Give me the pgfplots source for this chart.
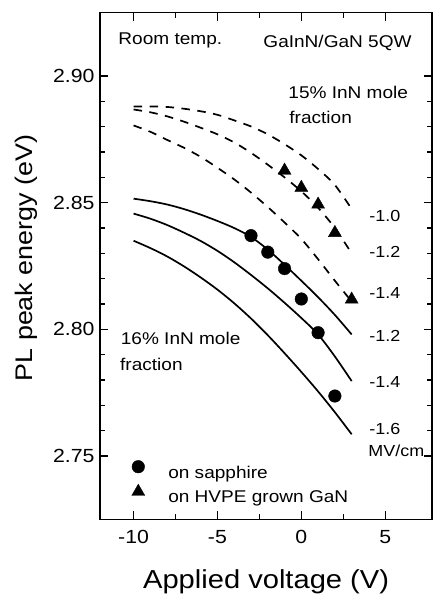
\documentclass[border=0pt]{standalone}
\usepackage{fontspec}
\setmainfont{Liberation Sans}[FakeStretch=1.12]
\usepackage{pgfplots}
\pgfplotsset{compat=1.18}
% legend image: one mark, then room before the text
\pgfplotsset{mkleg/.style={legend image code/.code={%
  \path[draw=none, fill=none] (0pt,-8pt) rectangle (36.5pt,17pt);
  \draw[##1] plot coordinates {(6.5pt,6pt)};}}}
\tikzset{ann/.style={anchor=base west, inner sep=0pt, font=\fontsize{17}{20}\selectfont},
         fld/.style={anchor=base west, inner sep=0pt, font=\fontsize{16}{19}\selectfont}}

\begin{document}
\begin{tikzpicture}
\begin{axis}[
    at={(0pt,0pt)}, anchor=south west,
    scale only axis, width=332.2pt, height=506.7pt,
    xmin=-12, xmax=7.8, ymin=2.725, ymax=2.925,
    xtick={-10,-5,0,5}, minor x tick num=1,
    ytick={2.75,2.80,2.85,2.90}, minor y tick num=4,
    tick align=inside,
    major tick length=8pt, minor tick length=5pt,
    axis line style={line width=1.5pt},
    tick style={black, line width=1.2pt},
    /pgf/number format/assume math mode=true,
    yticklabel style={/pgf/number format/fixed, /pgf/number format/fixed zerofill, /pgf/number format/precision=2, xshift=-2pt},
    xticklabel style={yshift=-7pt},
    ticklabel style={font=\fontsize{19}{22}\selectfont},
    xlabel={Applied voltage (V)},
    ylabel={PL peak energy (eV)},
    xlabel style={at={(axis description cs:0.5,-0.1354)}, anchor=base, font=\fontsize{26}{30}\selectfont},
    ylabel style={at={(axis description cs:-0.2228,0.516)}, anchor=center, font=\fontsize{24}{28}\selectfont},
    legend style={draw=none, fill=none, inner sep=0pt, outer sep=0pt,
        at={(0.0957,0.1257)}, anchor=north west,
        font=\fontsize{17}{20}\selectfont,
        nodes={inner sep=0pt}, row sep=0pt, column sep=0pt},
    legend cell align=left,
  ]
  % 16% InN, solid
  \addplot[black, line width=1.7pt, smooth, forget plot] coordinates {
    (-10,2.8516) (-9,2.8506) (-8,2.8493) (-7,2.8475) (-6,2.8453) (-5,2.8428) (-4,2.8400)
    (-3,2.8365) (-2,2.8315) (-1,2.8255) (0,2.8192) (1,2.8127) (2,2.8057) (3,2.7980)};
  \addplot[black, line width=1.7pt, smooth, forget plot] coordinates {
    (-10,2.8457) (-9,2.8437) (-8,2.8412) (-7,2.8382) (-6,2.8349) (-5,2.8310) (-4,2.8265)
    (-3,2.8215) (-2,2.8162) (-1,2.8105) (0,2.8045) (1,2.7980) (2,2.7893) (3,2.7796)};
  \addplot[black, line width=1.7pt, smooth, forget plot] coordinates {
    (-10,2.8350) (-9,2.8321) (-8,2.8288) (-7,2.8249) (-6,2.8205) (-5,2.8157) (-4,2.8103)
    (-3,2.8043) (-2,2.7977) (-1,2.7906) (0,2.7832) (1,2.7755) (2,2.7673) (3,2.7586)};
  % 15% InN, dashed
  \addplot[black, line width=1.7pt, smooth, dash pattern=on 8.5pt off 7.5pt, forget plot] coordinates {
    (-10,2.8880) (-9,2.8880) (-8,2.8878) (-7,2.8871) (-6,2.8861) (-5,2.8847) (-4,2.8825)
    (-3,2.8801) (-2,2.8770) (-1,2.8731) (0,2.8687) (1,2.8633) (2,2.8570) (3,2.8475)};
  \addplot[black, line width=1.7pt, smooth, dash pattern=on 8.5pt off 7.5pt, forget plot] coordinates {
    (-10,2.8868) (-9,2.8857) (-8,2.8841) (-7,2.8820) (-6,2.8796) (-5,2.8770) (-4,2.8738)
    (-3,2.8697) (-2,2.8650) (-1,2.8600) (0,2.8545) (1,2.8480) (2,2.8400) (3,2.8300)};
  \addplot[black, line width=1.7pt, smooth, dash pattern=on 8.5pt off 7.5pt, forget plot] coordinates {
    (-10,2.8805) (-9,2.8780) (-8,2.8748) (-7,2.8717) (-6,2.8681) (-5,2.8638) (-4,2.8592)
    (-3,2.8540) (-2,2.8483) (-1,2.8422) (0,2.8357) (1,2.8277) (2,2.8192) (3,2.8110)};
  % measured points
  \addplot[only marks, mark=*, mark size=6.3pt, black, mkleg] coordinates {
    (-3,2.8370) (-2,2.8305) (-1,2.8240) (0,2.8120) (1,2.7987) (2,2.7737)};
  \addlegendentry{on sapphire}
  \addplot[only marks, mark=triangle*, mark size=7.5pt, black, mkleg] coordinates {
    (-1,2.8627) (0,2.8559) (1,2.8493) (2,2.8381) (3,2.8118)};
  \addlegendentry{on HVPE grown GaN}

  \node[ann] at (axis cs:-10.91,2.9123) {Room temp.};
  \node[ann] at (axis cs:-2.27,2.9111) {GaInN/GaN 5QW};
  \node[ann] at (axis cs:-0.78,2.8912) {15\% InN mole};
  \node[ann] at (axis cs:-0.72,2.8811) {fraction};
  \node[ann] at (axis cs:-10.77,2.7941) {16\% InN mole};
  \node[ann] at (axis cs:-10.81,2.7837) {fraction};
  \node[fld] at (axis cs:4.05,2.8425) {-1.0};
  \node[fld] at (axis cs:4.05,2.8283) {-1.2};
  \node[fld] at (axis cs:4.05,2.8123) {-1.4};
  \node[fld] at (axis cs:4.05,2.7954) {-1.2};
  \node[fld] at (axis cs:4.05,2.7771) {-1.4};
  \node[fld] at (axis cs:4.05,2.7587) {-1.6};
  \node[fld] at (axis cs:3.99,2.7497) {MV/cm};
\end{axis}
\pgfresetboundingbox
\path (-100pt,-75.6pt) rectangle (334pt,519.4pt);
\end{tikzpicture}
\end{document}
